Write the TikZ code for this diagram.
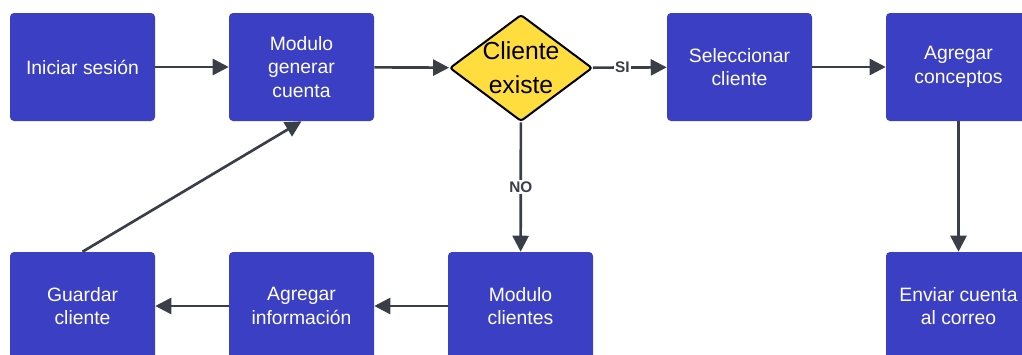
\documentclass[tikz,border=0pt]{standalone}
\usepackage{fontspec}
\setmainfont{Liberation Sans}
\usetikzlibrary{arrows.meta,shapes.geometric}
\definecolor{boxblue}{HTML}{3B3FC4}
\definecolor{decyellow}{HTML}{FFDD3F}
\definecolor{linegray}{HTML}{3A3F47}

\begin{document}
\begin{tikzpicture}[x=0.75pt, y=-0.75pt,
  box/.style={fill=boxblue, rounded corners=3pt, text=white, align=center,
    minimum width=108.75pt, minimum height=81pt, font=\fontsize{14.5}{17.5}\selectfont},
  flow/.style={draw=linegray, line width=2pt, -{Triangle[length=12pt,width=12pt]}},
  answer/.style={fill=white, text=linegray, inner sep=1pt,
    font=\fontsize{11.5}{13}\selectfont\bfseries}]
\useasboundingbox (0,0) rectangle (1022,354);

% fila superior
\node[box] (iniciar) at (82.5,67) {Iniciar sesión};
\node[box] (generar) at (301.5,67) {Modulo\\generar\\cuenta};
\node[diamond, draw=black, fill=decyellow, line width=1.5pt, rounded corners=2pt,
  inner sep=0pt, minimum width=107pt, minimum height=80pt,
  label={[align=center, font=\fontsize{18.5}{25.5}\selectfont]center:Cliente\\existe}]
  (existe) at (521,68) {};
\node[box] (seleccionar) at (739.5,67) {Seleccionar\\cliente};
\node[box] (conceptos) at (958.5,67) {Agregar\\conceptos};

% fila inferior
\node[box] (guardar) at (82.5,306) {Guardar\\cliente};
\node[box] (informacion) at (301.5,306) {Agregar\\información};
\node[box] (clientes) at (520.5,306) {Modulo\\clientes};
\node[box] (enviar) at (958.5,306) {Enviar cuenta\\al correo};

\begin{scope}[flow]
  \draw (iniciar) -- (generar);
  \draw (generar) -- (existe);
  \draw (existe) -- node[answer, pos=0.4] {SI} (seleccionar);
  \draw (seleccionar) -- (conceptos);
  \draw (conceptos) -- (enviar);
  \draw (existe) -- node[answer] {NO} (clientes);
  \draw (clientes) -- (informacion);
  \draw (informacion) -- (guardar);
  \draw (guardar.north) -- (generar.south);
\end{scope}

\end{tikzpicture}
\end{document}
